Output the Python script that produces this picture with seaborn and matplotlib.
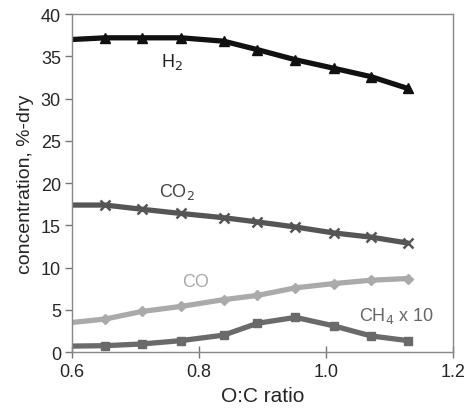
import numpy as np
import pandas as pd
import matplotlib
matplotlib.use("Agg")
import matplotlib.pyplot as plt
import seaborn as sns

sns.set_style("ticks")
plt.rcParams["font.family"] = ["Liberation Sans", "DejaVu Sans"]

# O:C ratio (first point sits on the left axis, no marker drawn there)
oc_ratio = [0.60, 0.652, 0.710, 0.772, 0.839, 0.892, 0.952, 1.012, 1.071, 1.129]
h2 = [37.0, 37.2, 37.2, 37.2, 36.8, 35.8, 34.6, 33.6, 32.6, 31.2]
co2 = [17.4, 17.4, 16.9, 16.4, 15.9, 15.4, 14.8, 14.1, 13.6, 12.9]
co = [3.5, 3.9, 4.8, 5.4, 6.2, 6.7, 7.6, 8.1, 8.5, 8.7]
ch4_x10 = [0.7, 0.75, 0.95, 1.35, 2.0, 3.4, 4.1, 3.1, 1.9, 1.35]

series = [
    ("H2", h2, "#111111", "^", 7.5),
    ("CO2", co2, "#555555", "x", 7),
    ("CO", co, "#aaaaaa", "D", 5),
    ("CH4", ch4_x10, "#6a6a6a", "s", 6),
]
labels = [
    (0.757, 34.5, "H$_2$", "#222222"),
    (0.765, 19.1, "CO$_2$", "#444444"),
    (0.794, 8.4, "CO", "#aaaaaa"),
    (1.111, 4.4, "CH$_4$ x 10", "#666666"),
]

fig = plt.figure(figsize=(4.66, 4.10), dpi=100)
ax = fig.add_axes([0.1545, 0.139, 0.8175, 0.824])

for name, vals, col, mk, ms in series:
    df = pd.DataFrame({"x": oc_ratio, "y": vals})
    sns.lineplot(data=df, x="x", y="y", ax=ax, color=col, lw=3.8,
                 marker=mk, markersize=ms, markevery=list(range(1, len(vals))),
                 markeredgecolor=col, markeredgewidth=1.8 if mk == "x" else 1)

for x, y, t, c in labels:
    ax.text(x, y, t, color=c, fontsize=13, ha="center", va="center")

ax.set_xlim(0.6, 1.2)
ax.set_ylim(0, 40)
ax.set_xticks([0.6, 0.8, 1.0, 1.2])
ax.set_xticklabels(["0.6", "0.8", "1.0", "1.2"])
ax.set_yticks(range(0, 41, 5))
ax.set_xlabel("O:C ratio", fontsize=15, labelpad=4)
ax.set_ylabel("concentration, %-dry", fontsize=14, labelpad=5)
ax.tick_params(axis="both", labelsize=13, color="#777777", width=1)
ax.tick_params(axis="x", direction="inout", length=8, pad=4)
ax.tick_params(axis="y", direction="out", length=5, pad=3)
for s in ax.spines.values():
    s.set_visible(True)
    s.set_color("#888888")
    s.set_linewidth(1)

fig.savefig("out.png", dpi=100)
